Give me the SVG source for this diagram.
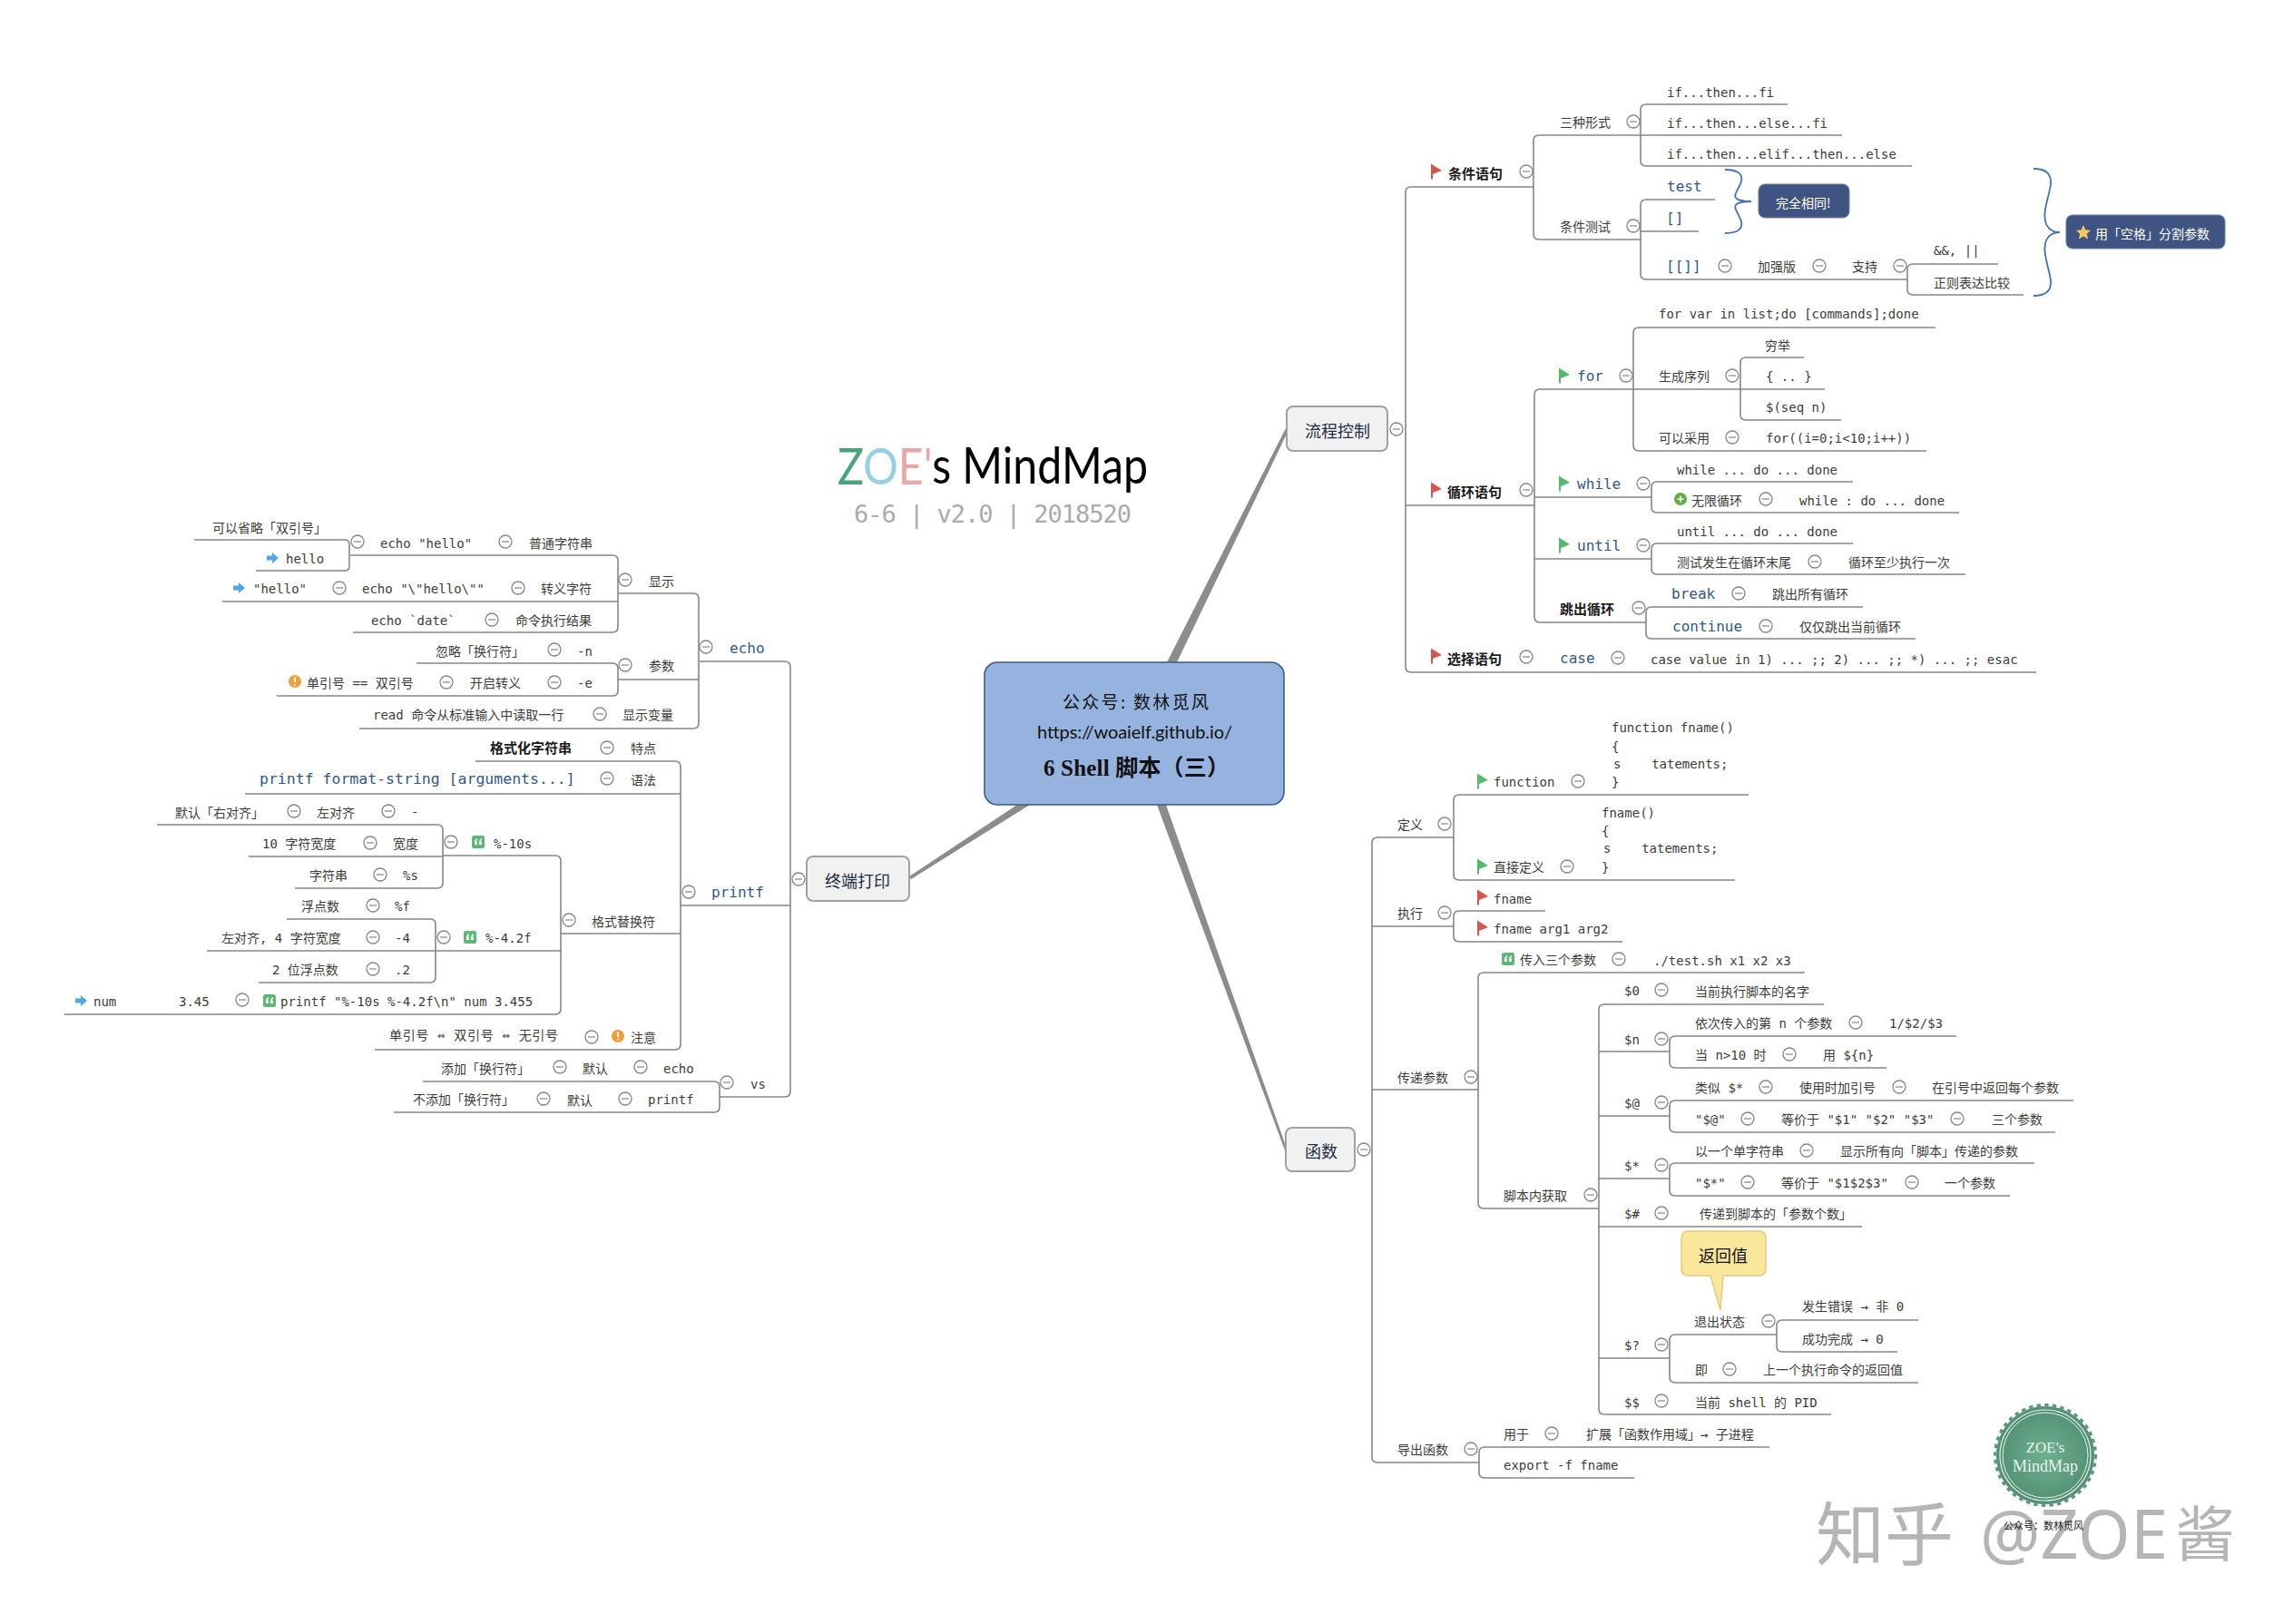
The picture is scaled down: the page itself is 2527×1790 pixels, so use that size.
<svg xmlns="http://www.w3.org/2000/svg" width="2527" height="1790" viewBox="0 0 2527 1790">
<style>
text{font-family:"DejaVu Sans Mono","Noto Sans CJK SC",monospace;font-size:14px;fill:#3d3d38;dominant-baseline:central;white-space:pre;transform:translateY(.6px)}
.c{font-family:"Noto Sans CJK SC",sans-serif}
.b{font-size:16px;fill:#2f5a88}
.h{font-family:"Noto Sans CJK SC",sans-serif;font-weight:700;font-size:15px;fill:#1a1a1a}
.m{font-family:"Noto Sans CJK SC",sans-serif;font-size:18px;fill:#1f2d42}
.w{font-family:"Noto Sans CJK SC",sans-serif;fill:#fff}
.ln{fill:none;stroke:#868686;stroke-width:1.6}
.br{fill:none;stroke:#3f73b5;stroke-width:1.8}
.tr{fill:#8c8c8c;stroke:none}
.box{fill:#f1f1f1;stroke:#a3a19b;stroke-width:2}
.dark{fill:#3f5482;stroke:#6b7da3;stroke-width:1}
</style>
<defs>
<g id="tg"><circle r="7" fill="#fff" stroke="#86868c" stroke-width="1.3"/><path d="M-4 0H4" stroke="#86868c" stroke-width="1.2"/></g>
<path id="fr" fill="#d4564f" d="M-6 -8.5L6 -1L-4 3V8.5H-6Z"/>
<path id="fg" fill="#55b96a" d="M-6 -8.5L6 -1L-4 3V8.5H-6Z"/>
<path id="ar" fill="#4ea6ea" d="M-7 -2.5H-1V-6L6 0L-1 6V2.5H-7Z"/>
<g id="ex"><circle r="7" fill="#ee9e3a"/><path d="M0 -4.5V1M0 3V4.5" stroke="#fff" stroke-width="2"/></g>
<g id="qt"><rect x="-7" y="-7" width="14" height="14" rx="2.5" fill="#5cb874"/><path d="M-4 1Q-4 -3 -1 -4V-2Q-2 -1.5 -2 0H-1V3H-4ZM1 1Q1 -3 4 -4V-2Q3 -1.5 3 0H4V3H1Z" fill="#fff"/></g>
<g id="pl"><circle r="7" fill="#62ad4b"/><path d="M-3.5 0H3.5M0 -3.5V3.5" stroke="#fff" stroke-width="1.6"/></g>
<radialGradient id="sg"><stop offset="0" stop-color="#6fb091"/><stop offset="1" stop-color="#528f74"/></radialGradient>
</defs>

<g id="connectors">
<polygon class="tr" points="1286,730 1297,730 1420,474 1417,472"/>
<polygon class="tr" points="1121,887 1135,887 1004,969 1002,966"/>
<polygon class="tr" points="1275,887 1285,887 1418,1266 1416,1268"/>
<g class="ln">
<path d="M214 595H380Q385 595 385 600V624Q385 629 380 629H282"/>
<path d="M386 612H675Q681 612 681 618V691Q681 697 675 697H389M681 663H245"/>
<path d="M681 654H764Q770 654 770 660V797Q770 803 764 803H396M681 749H770"/>
<path d="M459 731H675Q681 731 681 737V761Q681 767 675 767H305"/>
<path d="M771 729H865Q871 729 871 735V1203Q871 1209 865 1209H793M750 998H871"/>
<path d="M524 839H744Q750 839 750 845V1151Q750 1157 744 1157H413M270 875H750M618 1029H750"/>
<path d="M488 943H612Q618 943 618 949V1112Q618 1118 612 1118H71M480 1048H618"/>
<path d="M173 909H482Q488 909 488 915V973Q488 979 482 979H325M274 944H488"/>
<path d="M316 1013H474Q480 1013 480 1019V1077Q480 1083 474 1083H285M228 1048H480"/>
<path d="M466 1192H787Q793 1192 793 1198V1220Q793 1226 787 1226H434"/>
<path d="M1690 206H1555Q1549 206 1549 212V735Q1549 741 1555 741H2244M1549 557H1691"/>
<path d="M1808 149H1696Q1690 149 1690 155V258Q1690 264 1696 264H1808"/>
<path d="M1970 115H1814Q1808 115 1808 121V177Q1808 183 1814 183H2107M1808 149H2030"/>
<path d="M1890 220H1814Q1808 220 1808 226V302Q1808 308 1814 308H2102M1808 255H1872"/>
<path d="M2202 291H2108Q2102 291 2102 297V319Q2102 325 2108 325H2230"/>
<path d="M1800 429H1697Q1691 429 1691 435V680Q1691 686 1697 686H1814M1691 548H1820M1691 616H1820"/>
<path d="M2133 361H1806Q1800 361 1800 367V491Q1800 497 1806 497H2123M1800 429H1918"/>
<path d="M1988 394H1924Q1918 394 1918 400V457Q1918 463 1924 463H2029M1918 429H2011"/>
<path d="M2042 531H1826Q1820 531 1820 537V559Q1820 565 1826 565H2159"/>
<path d="M2042 599H1826Q1820 599 1820 605V627Q1820 633 1826 633H2166"/>
<path d="M2053 669H1820Q1814 669 1814 675V698Q1814 704 1820 704H2111"/>
<path d="M1602 923H1518Q1512 923 1512 929V1606Q1512 1612 1518 1612H1630M1512 1021H1602M1512 1201H1629"/>
<path d="M1927 876H1608Q1602 876 1602 882V964Q1602 970 1608 970H1912"/>
<path d="M1703 1004H1608Q1602 1004 1602 1010V1032Q1602 1038 1608 1038H1788"/>
<path d="M1989 1072H1635Q1629 1072 1629 1078V1326Q1629 1332 1635 1332H1762"/>
<path d="M2010 1107H1768Q1762 1107 1762 1113V1553Q1762 1559 1768 1559H2018M1762 1159H1840M1762 1230H1840M1762 1299H1840M1762 1352H2052M1762 1497H1840"/>
<path d="M2156 1142H1846Q1840 1142 1840 1148V1171Q1840 1177 1846 1177H2079"/>
<path d="M2285 1213H1846Q1840 1213 1840 1219V1242Q1840 1248 1846 1248H2265"/>
<path d="M2242 1282H1846Q1840 1282 1840 1288V1312Q1840 1318 1846 1318H2215"/>
<path d="M1958 1471H1846Q1840 1471 1840 1477V1518Q1840 1524 1846 1524H2114"/>
<path d="M2114 1455H1964Q1958 1455 1958 1461V1484Q1958 1490 1964 1490H2091"/>
<path d="M1950 1595H1636Q1630 1595 1630 1601V1623Q1630 1629 1636 1629H1801"/>
</g>
<g class="br">
<path d="M1901 187C1914 187 1921 191 1919 200C1916 209 1909 216 1914 219Q1918 222 1930 222Q1918 222 1914 225C1909 228 1916 235 1919 244C1921 253 1914 257 1901 257"/>
<path d="M2241 186C2254 186 2261 191 2260 203C2258 218 2250 235 2255 247Q2259 256 2270 256Q2259 256 2255 265C2250 277 2258 294 2260 309C2261 321 2254 326 2241 326"/>
</g>
</g>

<g id="title">
<text x="923" y="511" style="font-family:Lato,'Open Sans',sans-serif;font-size:56px;fill:#000" textLength="342" lengthAdjust="spacingAndGlyphs"><tspan style="fill:#4aa37c">Z</tspan><tspan style="fill:#96cde8">O</tspan><tspan style="fill:#e8a8a8">E'</tspan>s MindMap</text>
<text x="941" y="566" style="font-size:27px;fill:#aaaaaa" textLength="306">6-6 | v2.0 | 2018520</text>
</g>

<g id="root">
<rect x="1085" y="730" width="330" height="157" rx="14" fill="#95b3de" stroke="#3c5c8e" stroke-width="1.6"/>
<text x="1171" y="772" class="c" style="font-size:19px;fill:#111" textLength="161">公众号: 数林觅风</text>
<text x="1143" y="805" style="font-family:Lato,sans-serif;font-size:20px;fill:#111" textLength="215">https://woaielf.github.io/</text>
<text x="1150" y="846" style="font-family:'Liberation Serif','Noto Sans CJK SC',serif;font-weight:700;font-size:25px;fill:#111" textLength="205">6 Shell 脚本（三）</text>
</g>

<g id="main-flow"><rect class="box" x="1418" y="448" width="111" height="49" rx="7"/><text class="m" x="1438" y="473">流程控制</text><use href="#tg" x="1539" y="473"/></g>
<g id="main-print"><rect class="box" x="889" y="944" width="113" height="49" rx="7"/><text class="m" x="909" y="969">终端打印</text><use href="#tg" x="880" y="969"/></g>
<g id="main-func"><rect class="box" x="1417" y="1243" width="76" height="48" rx="7"/><text class="m" x="1438" y="1267">函数</text><use href="#tg" x="1503" y="1267"/></g>

<g id="n-echo-1"><text x="234" y="581">可以省略「双引号」</text></g>
<g id="n-echo-2"><use href="#tg" x="394" y="597"/><text x="419" y="598">echo "hello"</text></g>
<g id="n-echo-3"><use href="#tg" x="557" y="597"/><text x="583" y="598">普通字符串</text></g>
<g id="n-echo-4"><use href="#ar" x="301" y="615"/><text x="315" y="615">hello</text></g>
<g id="n-echo-5"><use href="#tg" x="689" y="639"/><text x="715" y="640">显示</text></g>
<g id="n-echo-6"><use href="#ar" x="264" y="648"/><text x="279" y="648">"hello"</text></g>
<g id="n-echo-7"><use href="#tg" x="374" y="648"/><text x="399" y="648">echo "\"hello\""</text></g>
<g id="n-echo-8"><use href="#tg" x="571" y="648"/><text x="596" y="648">转义字符</text></g>
<g id="n-echo-9"><use href="#tg" x="542" y="683"/><text x="409" y="683">echo `date`</text></g>
<g id="n-echo-10"><text x="568" y="683">命令执行结果</text></g>
<g id="n-echo-11"><use href="#tg" x="611" y="716"/><text x="480" y="717">忽略「换行符」</text></g>
<g id="n-echo-12"><text x="636" y="717">-n</text></g>
<g id="n-echo-13"><use href="#tg" x="689" y="733"/><text x="715" y="733">参数</text></g>
<g id="n-echo-14"><use href="#ex" x="325" y="751"/><use href="#tg" x="492" y="752"/><text x="338" y="752">单引号 == 双引号</text></g>
<g id="n-echo-15"><use href="#tg" x="611" y="752"/><text x="518" y="752">开启转义</text></g>
<g id="n-echo-16"><text x="636" y="752">-e</text></g>
<g id="n-echo-17"><use href="#tg" x="661" y="787"/><text x="411" y="787">read 命令从标准输入中读取一行</text></g>
<g id="n-echo-18"><text x="686" y="787">显示变量</text></g>
<g id="n-echo"><use href="#tg" x="778" y="713"/><text class="b" x="804" y="714">echo</text></g>

<g id="n-pf-1"><use href="#tg" x="669" y="824"/><text class="h" x="540" y="823">格式化字符串</text></g>
<g id="n-pf-2"><text x="695" y="824">特点</text></g>
<g id="n-pf-3"><use href="#tg" x="669" y="858"/><text class="b" style="font-size:16.5px" x="286" y="858">printf format-string [arguments...]</text></g>
<g id="n-pf-4"><text x="695" y="859">语法</text></g>
<g id="n-pf-5"><use href="#tg" x="324" y="894"/><text x="193" y="895">默认「右对齐」</text></g>
<g id="n-pf-6"><use href="#tg" x="428" y="894"/><text x="349" y="895">左对齐</text></g>
<g id="n-pf-7"><text x="453" y="894">-</text></g>
<g id="n-pf-8"><use href="#tg" x="408" y="929"/><text x="289" y="929">10 字符宽度</text></g>
<g id="n-pf-9"><text x="433" y="929">宽度</text></g>
<g id="n-pf-10"><use href="#tg" x="497" y="928"/><use href="#qt" x="527" y="928"/><text x="544" y="929">%-10s</text></g>
<g id="n-pf-11"><use href="#tg" x="419" y="964"/><text x="341" y="964">字符串</text></g>
<g id="n-pf-12"><text x="444" y="964">%s</text></g>
<g id="n-pf-13"><use href="#tg" x="411" y="998"/><text x="332" y="998">浮点数</text></g>
<g id="n-pf-14"><text x="435" y="998">%f</text></g>
<g id="n-pf-15"><use href="#tg" x="411" y="1033"/><text x="244" y="1033">左对齐, 4 字符宽度</text></g>
<g id="n-pf-16"><text x="435" y="1033">-4</text></g>
<g id="n-pf-17"><use href="#tg" x="489" y="1033"/><use href="#qt" x="518" y="1033"/><text x="535" y="1033">%-4.2f</text></g>
<g id="n-pf-18"><use href="#tg" x="411" y="1068"/><text x="300" y="1068">2 位浮点数</text></g>
<g id="n-pf-19"><text x="435" y="1068">.2</text></g>
<g id="n-pf-20"><use href="#ar" x="90" y="1103"/><text x="103" y="1103">num</text></g>
<g id="n-pf-21"><text x="197" y="1103">3.45</text></g>
<g id="n-pf-22"><use href="#tg" x="267" y="1102"/><use href="#qt" x="297" y="1103"/><text x="309" y="1103">printf "%-10s %-4.2f\n" num 3.455</text></g>
<g id="n-pf-23"><use href="#tg" x="627" y="1014"/><text x="652" y="1015">格式替换符</text></g>
<g id="n-pf-24"><use href="#tg" x="652" y="1143"/><text x="429" y="1140" textLength="186">单引号 ⇔ 双引号 ⇔ 无引号</text></g>
<g id="n-pf-25"><use href="#ex" x="681" y="1142"/><text x="695" y="1143">注意</text></g>
<g id="n-printf"><use href="#tg" x="759" y="983"/><text class="b" x="784" y="983">printf</text></g>
<g id="n-vs-1"><use href="#tg" x="617" y="1176"/><text x="486" y="1177">添加「换行符」</text></g>
<g id="n-vs-2"><use href="#tg" x="706" y="1176"/><text x="642" y="1177">默认</text></g>
<g id="n-vs-3"><text x="731" y="1177">echo</text></g>
<g id="n-vs-4"><use href="#tg" x="599" y="1211"/><text x="455" y="1211">不添加「换行符」</text></g>
<g id="n-vs-5"><use href="#tg" x="689" y="1211"/><text x="625" y="1212">默认</text></g>
<g id="n-vs-6"><text x="714" y="1211">printf</text></g>
<g id="n-vs"><use href="#tg" x="801" y="1193"/><text x="827" y="1194">vs</text></g>

<g id="n-cond"><use href="#fr" x="1583" y="189"/><use href="#tg" x="1682" y="189"/><text class="h" x="1596" y="190">条件语句</text></g>
<g id="n-cond-1"><use href="#tg" x="1800" y="134"/><text x="1719" y="134">三种形式</text></g>
<g id="n-cond-2"><text x="1837" y="101">if...then...fi</text></g>
<g id="n-cond-3"><text x="1837" y="135">if...then...else...fi</text></g>
<g id="n-cond-4"><text x="1837" y="169">if...then...elif...then...else</text></g>
<g id="n-cond-5"><use href="#tg" x="1800" y="249"/><text x="1719" y="249">条件测试</text></g>
<g id="n-cond-6"><text class="b" x="1837" y="205">test</text></g>
<g id="n-cond-7"><text class="b" x="1836" y="240">[]</text></g>
<g id="n-cond-8"><use href="#tg" x="1901" y="293"/><text class="b" x="1836" y="293">[[]]</text></g>
<g id="n-cond-9"><use href="#tg" x="2005" y="293"/><text x="1937" y="293">加强版</text></g>
<g id="n-cond-10"><use href="#tg" x="2094" y="293"/><text x="2041" y="293">支持</text></g>
<g id="n-cond-11"><text x="2131" y="275">&amp;&amp;, ||</text></g>
<g id="n-cond-12"><text x="2131" y="311">正则表达比较</text></g>
<g id="n-same"><rect class="dark" x="1938" y="203" width="100" height="37" rx="7"/><text class="w" x="1957" y="222">完全相同!</text></g>
<g id="n-space"><rect class="dark" x="2277" y="237" width="175" height="37" rx="7"/><path fill="#f2c464" d="M2296 248l2.4 5.2 5.6.7-4.1 3.9 1.1 5.6-5-2.8-5 2.8 1.1-5.6-4.1-3.9 5.6-.7z"/><text class="w" x="2309" y="256">用「空格」分割参数</text></g>

<g id="n-loop"><use href="#fr" x="1583" y="540"/><use href="#tg" x="1682" y="540"/><text class="h" x="1595" y="541">循环语句</text></g>
<g id="n-for"><use href="#fg" x="1724" y="414"/><use href="#tg" x="1792" y="414"/><text class="b" x="1738" y="414">for</text></g>
<g id="n-for-1"><text x="1828" y="345">for var in list;do [commands];done</text></g>
<g id="n-for-2"><use href="#tg" x="1909" y="414"/><text x="1828" y="414">生成序列</text></g>
<g id="n-for-3"><text x="1945" y="380">穷举</text></g>
<g id="n-for-4"><text x="1946" y="414">{ .. }</text></g>
<g id="n-for-5"><text x="1946" y="448">$(seq n)</text></g>
<g id="n-for-6"><use href="#tg" x="1909" y="482"/><text x="1828" y="482">可以采用</text></g>
<g id="n-for-7"><text x="1946" y="482">for((i=0;i&lt;10;i++))</text></g>
<g id="n-while"><use href="#fg" x="1724" y="533"/><use href="#tg" x="1811" y="533"/><text class="b" x="1738" y="533">while</text></g>
<g id="n-while-1"><text x="1848" y="517">while ... do ... done</text></g>
<g id="n-while-2"><use href="#pl" x="1852" y="550"/><use href="#tg" x="1946" y="550"/><text x="1864" y="551">无限循环</text></g>
<g id="n-while-3"><text x="1983" y="551">while : do ... done</text></g>
<g id="n-until"><use href="#fg" x="1724" y="601"/><use href="#tg" x="1811" y="601"/><text class="b" x="1738" y="601">until</text></g>
<g id="n-until-1"><text x="1848" y="585">until ... do ... done</text></g>
<g id="n-until-2"><use href="#tg" x="2000" y="619"/><text x="1848" y="619">测试发生在循环末尾</text></g>
<g id="n-until-3"><text x="2037" y="619">循环至少执行一次</text></g>
<g id="n-jump"><use href="#tg" x="1806" y="670"/><text class="h" x="1719" y="670">跳出循环</text></g>
<g id="n-jump-1"><use href="#tg" x="1916" y="654"/><text class="b" x="1842" y="654">break</text></g>
<g id="n-jump-2"><text x="1953" y="654">跳出所有循环</text></g>
<g id="n-jump-3"><use href="#tg" x="1946" y="690"/><text class="b" x="1843" y="690">continue</text></g>
<g id="n-jump-4"><text x="1983" y="690">仅仅跳出当前循环</text></g>
<g id="n-sel"><use href="#fr" x="1583" y="723"/><use href="#tg" x="1682" y="724"/><text class="h" x="1595" y="725">选择语句</text></g>
<g id="n-case"><use href="#tg" x="1783" y="725"/><text class="b" x="1719" y="725">case</text></g>
<g id="n-case-1"><text x="1819" y="726">case value in 1) ... ;; 2) ... ;; *) ... ;; esac</text></g>

<g id="n-def"><use href="#tg" x="1592" y="908"/><text x="1540" y="908">定义</text></g>
<g id="n-def-1"><use href="#fg" x="1634" y="861"/><use href="#tg" x="1739" y="861"/><text x="1646" y="861">function</text></g>
<g id="n-def-2"><text x="1776" y="801">function fname()</text><text x="1776" y="822">{</text><text x="1778" y="841">s    tatements;</text><text x="1776" y="861">}</text></g>
<g id="n-def-3"><use href="#fg" x="1634" y="955"/><use href="#tg" x="1727" y="955"/><text x="1646" y="955">直接定义</text></g>
<g id="n-def-4"><text x="1765" y="895">fname()</text><text x="1765" y="915">{</text><text x="1767" y="934">s    tatements;</text><text x="1765" y="955">}</text></g>
<g id="n-run"><use href="#tg" x="1592" y="1006"/><text x="1540" y="1006">执行</text></g>
<g id="n-run-1"><use href="#fr" x="1634" y="989"/><text x="1646" y="990">fname</text></g>
<g id="n-run-2"><use href="#fr" x="1634" y="1023"/><text x="1646" y="1023">fname arg1 arg2</text></g>
<g id="n-arg"><use href="#tg" x="1621" y="1187"/><text x="1540" y="1187">传递参数</text></g>
<g id="n-arg-1"><use href="#qt" x="1662" y="1057"/><use href="#tg" x="1784" y="1057"/><text x="1675" y="1057">传入三个参数</text></g>
<g id="n-arg-2"><text x="1822" y="1058">./test.sh x1 x2 x3</text></g>
<g id="n-arg-3"><use href="#tg" x="1753" y="1317"/><text x="1657" y="1317">脚本内获取</text></g>
<g id="n-s0"><use href="#tg" x="1831" y="1091"/><text x="1790" y="1091">$0</text></g>
<g id="n-s0-1"><text x="1868" y="1092">当前执行脚本的名字</text></g>
<g id="n-sn"><use href="#tg" x="1831" y="1145"/><text x="1790" y="1145">$n</text></g>
<g id="n-sn-1"><use href="#tg" x="2045" y="1127"/><text x="1868" y="1127">依次传入的第 n 个参数</text></g>
<g id="n-sn-2"><text x="2082" y="1127">1/$2/$3</text></g>
<g id="n-sn-3"><use href="#tg" x="1972" y="1162"/><text x="1868" y="1162">当 n&gt;10 时</text></g>
<g id="n-sn-4"><text x="2009" y="1162">用 ${n}</text></g>
<g id="n-sa"><use href="#tg" x="1831" y="1215"/><text x="1790" y="1215">$@</text></g>
<g id="n-sa-1"><use href="#tg" x="1946" y="1198"/><text x="1868" y="1198">类似 $*</text></g>
<g id="n-sa-2"><use href="#tg" x="2093" y="1198"/><text x="1983" y="1198">使用时加引号</text></g>
<g id="n-sa-3"><text x="2129" y="1198">在引号中返回每个参数</text></g>
<g id="n-sa-4"><use href="#tg" x="1926" y="1233"/><text x="1868" y="1233">"$@"</text></g>
<g id="n-sa-5"><use href="#tg" x="2157" y="1233"/><text x="1963" y="1233">等价于 "$1" "$2" "$3"</text></g>
<g id="n-sa-6"><text x="2195" y="1233">三个参数</text></g>
<g id="n-ss"><use href="#tg" x="1831" y="1284"/><text x="1790" y="1284">$*</text></g>
<g id="n-ss-1"><use href="#tg" x="1991" y="1268"/><text x="1868" y="1268">以一个单字符串</text></g>
<g id="n-ss-2"><text x="2028" y="1268">显示所有向「脚本」传递的参数</text></g>
<g id="n-ss-3"><use href="#tg" x="1926" y="1303"/><text x="1868" y="1303">"$*"</text></g>
<g id="n-ss-4"><use href="#tg" x="2107" y="1303"/><text x="1963" y="1303">等价于 "$1$2$3"</text></g>
<g id="n-ss-5"><text x="2143" y="1303">一个参数</text></g>
<g id="n-sh"><use href="#tg" x="1831" y="1337"/><text x="1790" y="1337">$#</text></g>
<g id="n-sh-1"><text x="1873" y="1337">传递到脚本的「参数个数」</text></g>
<g id="n-sq"><use href="#tg" x="1831" y="1482"/><text x="1790" y="1482">$?</text></g>
<g id="n-sq-1"><use href="#tg" x="1949" y="1456"/><text x="1867" y="1456">退出状态</text></g>
<g id="n-sq-2"><text x="1986" y="1439">发生错误 → 非 0</text></g>
<g id="n-sq-3"><text x="1986" y="1475">成功完成 → 0</text></g>
<g id="n-sq-4"><use href="#tg" x="1906" y="1509"/><text x="1868" y="1509">即</text></g>
<g id="n-sq-5"><text x="1943" y="1509">上一个执行命令的返回值</text></g>
<g id="n-sd"><use href="#tg" x="1831" y="1544"/><text x="1790" y="1545">$$</text></g>
<g id="n-sd-1"><text x="1868" y="1545">当前 shell 的 PID</text></g>
<g id="n-callout"><path d="M1861 1357H1938Q1946 1357 1946 1365V1398Q1946 1406 1938 1406H1899L1896 1444L1885 1406H1861Q1853 1406 1853 1398V1365Q1853 1357 1861 1357Z" fill="#fbe79b" stroke="#eac97a" stroke-width="1.5"/><text class="m" style="fill:#111" x="1872" y="1382">返回值</text></g>
<g id="n-exp"><use href="#tg" x="1621" y="1597"/><text x="1540" y="1597">导出函数</text></g>
<g id="n-exp-1"><use href="#tg" x="1710" y="1580"/><text x="1657" y="1580">用于</text></g>
<g id="n-exp-2"><text x="1748" y="1580">扩展「函数作用域」→ 子进程</text></g>
<g id="n-exp-3"><text x="1657" y="1614">export -f fname</text></g>

<g id="stamp">
<circle cx="2254" cy="1604" r="54" fill="url(#sg)"/>
<circle cx="2254" cy="1604" r="55" fill="none" stroke="#5c9a7d" stroke-width="4" stroke-dasharray="4.3 4.3"/>
<circle cx="2254" cy="1604" r="50" fill="none" stroke="#e6f2ec" stroke-width="1.2"/>
<circle cx="2254" cy="1604" r="47" fill="none" stroke="#e6f2ec" stroke-width="1"/>
<text x="2254" y="1595" text-anchor="middle" style="font-family:'Liberation Serif',serif;font-size:17px;fill:#e8f4ee">ZOE's</text>
<text x="2254" y="1615" text-anchor="middle" style="font-family:'Liberation Serif',serif;font-size:18px;fill:#e8f4ee">MindMap</text>
</g>
<g id="watermark">
<text y="1688" style="font-family:'Noto Sans','Noto Sans CJK SC',sans-serif;font-size:74px;fill:#b5b5b5"><tspan x="2001" style="font-size:76px">知乎</tspan><tspan x="2182">@ZOE</tspan><tspan x="2397" style="font-size:66px">酱</tspan></text>
<text x="2208" y="1680" class="c" style="font-size:11px;fill:#222" textLength="88">公众号：数林觅风</text>
</g>
</svg>
